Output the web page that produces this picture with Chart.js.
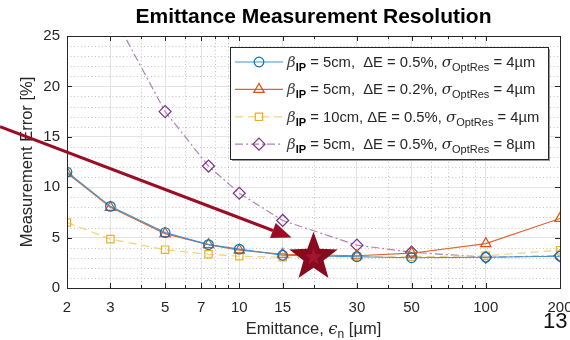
<!DOCTYPE html>
<html>
<head>
<meta charset="utf-8">
<script src="https://cdn.jsdelivr.net/npm/chart.js@4.4.1/dist/chart.umd.min.js"></script>
<style>
  html, body { margin: 0; padding: 0; background: #fff; }
  #wrap { width: 570px; height: 340px; position: relative; }
</style>
</head>
<body>
<div id="wrap"><canvas id="chart" width="570" height="340"></canvas></div>
<script>
// emittance values (µm) and measurement error (%) per configuration
const emittance = [2, 3, 5, 7.5, 10, 15, 30, 50, 100, 200];
const errBeta5dE05 = [11.5, 8.1, 5.5, 4.3, 3.85, 3.25, 3.1, 3.0, 3.05, 3.15];
const errBeta5dE02 = [11.4, 8.0, 5.4, 4.3, 3.75, 3.35, 3.2, 3.45, 4.4, 6.9];
const errBeta10dE05 = [6.5, 4.85, 3.8, 3.35, 3.15, 3.05, 3.1, 3.1, 3.2, 3.75];
const errBeta5Opt8 = [41, 27.6, 17.5, 12.1, 9.4, 6.7, 4.25, 3.55, 3.05, 3.2];

const xTicks = [2, 3, 5, 7, 10, 15, 30, 50, 100, 200];
const xMinor = [4, 6, 8, 9, 20, 40, 60, 70, 80, 90];
const yTicks = [0, 5, 10, 15, 20, 25];
const yMinor = [1, 2, 3, 4, 6, 7, 8, 9, 11, 12, 13, 14, 16, 17, 18, 19, 21, 22, 23, 24];

const legendBetaSub = ['IP', 'IP', 'IP', 'IP'];
const legendMid = [' = 5cm,  \u0394E = 0.5%, ', ' = 5cm,  \u0394E = 0.2%, ', ' = 10cm, \u0394E = 0.5%, ', ' = 5cm,  \u0394E = 0.5%, '];
const legendEnd = [' = 4\u00b5m', ' = 4\u00b5m', ' = 4\u00b5m', ' = 8\u00b5m'];

// slide annotations, in data units
const arrowFrom = [1.07, 16.0];
const arrowTo = [16.3, 5.0];
const starAt = [20, 3.05];

const FONT = '"Liberation Sans", Arial, "DejaVu Sans", sans-serif';
const AXIS = '#262626';

const styles = [
  { line: '#3f93cf', mark: '#0072bd', point: 'circle', r: 4.8, dash: [] },
  { line: '#df6430', mark: '#d95319', point: 'triangle', r: 6, dash: [] },
  { line: '#f3cf80', mark: '#edb120', point: 'rect', r: 5.2, dash: [8, 5] },
  { line: '#ac83b8', mark: '#7e2f8e', point: 'rectRot', r: 6, dash: [8, 3, 2, 3] }
];
const series = [errBeta5dE05, errBeta5dE02, errBeta10dE05, errBeta5Opt8];

const datasets = series.map((vals, i) => ({
  data: emittance.map((x, j) => ({ x: x, y: vals[j] })),
  borderColor: styles[i].line,
  borderWidth: 1.2,
  borderDash: styles[i].dash,
  pointStyle: styles[i].point,
  pointRadius: styles[i].r,
  pointBorderColor: styles[i].mark,
  pointBackgroundColor: 'rgba(0,0,0,0)',
  pointBorderWidth: 1.2,
  tension: 0
}));

const frame = {
  id: 'frame',
  beforeDatasetsDraw(chart) {
    const { ctx, chartArea: a, scales: { x, y } } = chart;
    ctx.save();
    ctx.strokeStyle = '#c4c4c4';
    ctx.lineWidth = 1;
    ctx.setLineDash([1, 2.5]);
    ctx.beginPath();
    xMinor.forEach(v => { const px = Math.round(x.getPixelForValue(v)) + 0.5; ctx.moveTo(px, a.top); ctx.lineTo(px, a.bottom); });
    yMinor.forEach(v => { const py = Math.round(y.getPixelForValue(v)) + 0.5; ctx.moveTo(a.left, py); ctx.lineTo(a.right, py); });
    ctx.stroke();
    ctx.restore();
  },
  afterDatasetsDraw(chart) {
    const { ctx, chartArea: a, scales: { x, y } } = chart;
    ctx.save();
    ctx.strokeStyle = AXIS;
    ctx.lineWidth = 1;
    ctx.beginPath();
    ctx.rect(Math.round(a.left) + 0.5, Math.round(a.top) + 0.5, Math.round(a.right - a.left), Math.round(a.bottom - a.top));
    xTicks.forEach(v => {
      const px = Math.round(x.getPixelForValue(v)) + 0.5;
      ctx.moveTo(px, a.bottom); ctx.lineTo(px, a.bottom - 5);
      ctx.moveTo(px, a.top); ctx.lineTo(px, a.top + 5);
    });
    xMinor.forEach(v => {
      const px = Math.round(x.getPixelForValue(v)) + 0.5;
      ctx.moveTo(px, a.bottom); ctx.lineTo(px, a.bottom - 3);
      ctx.moveTo(px, a.top); ctx.lineTo(px, a.top + 3);
    });
    yTicks.forEach(v => {
      const py = Math.round(y.getPixelForValue(v)) + 0.5;
      ctx.moveTo(a.left, py); ctx.lineTo(a.left + 5, py);
      ctx.moveTo(a.right, py); ctx.lineTo(a.right - 5, py);
    });
    ctx.stroke();
    ctx.restore();
  },
  afterDraw(chart) {
    const { ctx, chartArea: a, scales: { x, y } } = chart;
    ctx.save();

    // x axis title with subscript
    ctx.fillStyle = AXIS;
    ctx.textBaseline = 'alphabetic';
    const parts = [
      { t: 'Emittance, ', f: '16.5px ' + FONT, dy: 0 },
      { t: '\u03f5', f: 'italic 16.5px "DejaVu Serif", serif', dy: 0 },
      { t: 'n', f: '12px ' + FONT, dy: 4 },
      { t: ' [\u00b5m]', f: '16.5px ' + FONT, dy: 0 }
    ];
    let w = 0;
    parts.forEach(p => { ctx.font = p.f; w += ctx.measureText(p.t).width; });
    let tx = (a.left + a.right) / 2 - w / 2;
    parts.forEach(p => { ctx.font = p.f; ctx.fillText(p.t, tx, 334 + p.dy); tx += ctx.measureText(p.t).width; });

    // legend box
    const lx = 230, ly = 47, lw = 318, lh = 112;
    ctx.fillStyle = '#9a9a9a';
    ctx.fillRect(lx + 2, ly + 2, lw, lh);
    ctx.fillStyle = '#fff';
    ctx.fillRect(lx, ly, lw, lh);
    ctx.strokeStyle = AXIS;
    ctx.lineWidth = 1;
    ctx.strokeRect(lx + 0.5, ly + 0.5, lw, lh);

    chart.data.datasets.forEach((ds, i) => {
      const cy = 62 + i * 27.4;
      ctx.save();
      ctx.strokeStyle = ds.borderColor;
      ctx.lineWidth = 1.2;
      ctx.setLineDash(ds.borderDash);
      ctx.beginPath();
      ctx.moveTo(235, cy); ctx.lineTo(283, cy);
      ctx.stroke();
      ctx.setLineDash([]);
      ctx.strokeStyle = ds.pointBorderColor;
      ctx.fillStyle = 'rgba(0,0,0,0)';
      ctx.lineWidth = 1.2;
      Chart.helpers.drawPoint(ctx, { pointStyle: ds.pointStyle, radius: ds.pointRadius, rotation: 0, borderWidth: 1.2 }, 259, cy);
      ctx.restore();

      const base = cy + 5;
      const row = [
        { t: '\u03b2', f: 'italic 15px "DejaVu Serif", serif', dy: 0, c: '#404040' },
        { t: legendBetaSub[i], f: 'bold 11px ' + FONT, dy: 4, c: '#000' },
        { t: legendMid[i], f: '14.8px ' + FONT, dy: 0, c: AXIS },
        { t: '\u03c3', f: 'italic 15px "DejaVu Serif", serif', dy: 0, c: AXIS },
        { t: 'OptRes', f: '11px ' + FONT, dy: 4, c: AXIS },
        { t: legendEnd[i], f: '14.8px ' + FONT, dy: 0, c: AXIS }
      ];
      let rx = 287;
      row.forEach(p => { ctx.font = p.f; ctx.fillStyle = p.c; ctx.fillText(p.t, rx, base + p.dy); rx += ctx.measureText(p.t).width; });
    });

    // arrow
    const ax0 = x.getPixelForValue(arrowFrom[0]), ay0 = y.getPixelForValue(arrowFrom[1]);
    const ax1 = x.getPixelForValue(arrowTo[0]), ay1 = y.getPixelForValue(arrowTo[1]);
    const ang = Math.atan2(ay1 - ay0, ax1 - ax0);
    const hl = 20, hw = 8;
    const bx = ax1 - hl * Math.cos(ang), by = ay1 - hl * Math.sin(ang);
    ctx.strokeStyle = '#9b0d24';
    ctx.fillStyle = '#9b0d24';
    ctx.lineWidth = 3;
    ctx.beginPath();
    ctx.moveTo(ax0, ay0); ctx.lineTo(bx, by);
    ctx.stroke();
    ctx.beginPath();
    ctx.moveTo(ax1, ay1);
    ctx.lineTo(bx + hw * Math.sin(ang), by - hw * Math.cos(ang));
    ctx.lineTo(bx - hw * Math.sin(ang), by + hw * Math.cos(ang));
    ctx.closePath();
    ctx.fill();

    // star
    const sx = x.getPixelForValue(starAt[0]), sy = y.getPixelForValue(starAt[1]);
    const star = (R, r, col) => {
      ctx.beginPath();
      for (let k = 0; k < 10; k++) {
        const rad = k % 2 ? r : R;
        const t = -Math.PI / 2 + k * Math.PI / 5;
        ctx.lineTo(sx + rad * Math.cos(t), sy + rad * Math.sin(t));
      }
      ctx.closePath();
      ctx.fillStyle = col;
      ctx.fill();
    };
    star(25.5, 10.5, '#870a1f');
    star(9, 3.8, '#a4162f');

    // slide page number
    ctx.fillStyle = '#111';
    ctx.font = '22px "Liberation Sans Narrow", ' + FONT;
    ctx.textBaseline = 'alphabetic';
    ctx.fillText('13', 543, 328);
    ctx.restore();
  }
};

new Chart(document.getElementById('chart'), {
  type: 'line',
  data: { datasets: datasets },
  options: {
    responsive: false,
    animation: false,
    devicePixelRatio: 1,
    layout: { padding: { left: 0, right: 10, top: 0, bottom: 0 } },
    plugins: {
      legend: { display: false },
      tooltip: { enabled: false },
      title: {
        display: true,
        text: 'Emittance Measurement Resolution',
        fullSize: false,
        color: '#000',
        font: { family: FONT, size: 21, weight: 'bold' },
        padding: { top: 5, bottom: 5.8 }
      }
    },
    scales: {
      x: {
        type: 'logarithmic',
        min: 2,
        max: 200,
        afterBuildTicks: s => { s.ticks = xTicks.map(v => ({ value: v })); },
        afterFit: s => { s.height = 52; s.paddingLeft = 0; s.paddingRight = 0; },
        ticks: {
          autoSkip: false, maxRotation: 0, minRotation: 0, padding: 11,
          color: AXIS, font: { family: FONT, size: 15 },
          callback: v => String(v)
        },
        grid: { color: '#e3e3e3', lineWidth: 1, drawTicks: false },
        border: { color: AXIS, width: 1 }
      },
      y: {
        min: 0,
        max: 25,
        afterBuildTicks: s => { s.ticks = yTicks.map(v => ({ value: v })); },
        afterFit: s => { s.width = 67; },
        ticks: { padding: 7, color: AXIS, font: { family: FONT, size: 15 } },
        grid: { color: '#e3e3e3', lineWidth: 1, drawTicks: false },
        border: { color: AXIS, width: 1 },
        title: {
          display: true,
          text: 'Measurement Error [%]',
          color: AXIS,
          font: { family: FONT, size: 16.5 },
          padding: { top: 18, bottom: 0 }
        }
      }
    }
  },
  plugins: [frame]
});
</script>
</body>
</html>
